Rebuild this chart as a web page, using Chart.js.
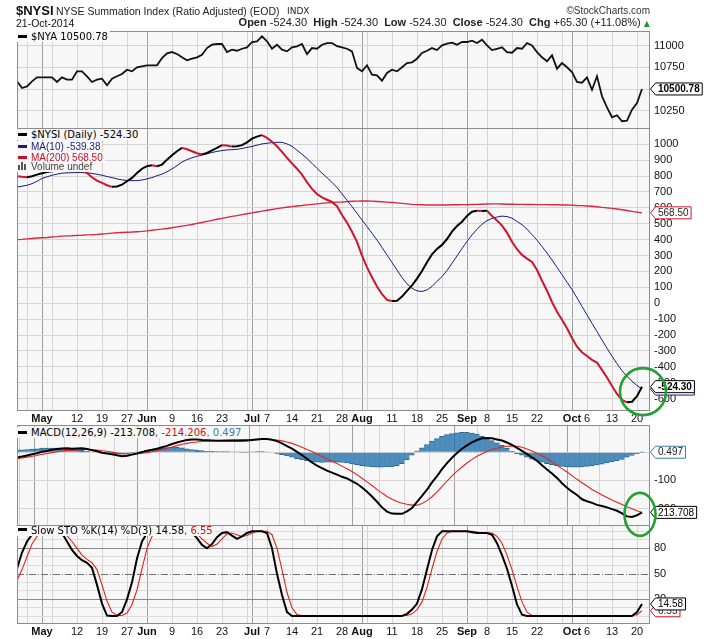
<!DOCTYPE html>
<html><head><meta charset="utf-8">
<script src="https://cdn.jsdelivr.net/npm/chart.js@4.4.1/dist/chart.umd.min.js"></script>
<style>
html,body{margin:0;padding:0;background:#fff;}
#wrap{position:relative;width:725px;height:639px;overflow:hidden;background:#fff;}
#wrap canvas{position:absolute;left:0;top:0;width:725px;height:639px;}
.t{position:absolute;white-space:nowrap;}
.lg{position:absolute;white-space:nowrap;font-family:"DejaVu Sans",sans-serif;font-size:10px;line-height:11px;background:#f7f7f7;padding:0 2px 0 1px;color:#000;}
.ls{font-family:"Liberation Sans",Arial,sans-serif;}
.mk{display:inline-block;width:9px;height:3px;vertical-align:middle;margin-right:4px;position:relative;top:-1px;}
.vb{display:inline-block;width:2px;background:#555;margin-right:1px;vertical-align:baseline;}
</style></head><body>
<div id="wrap">
<canvas id="cNya" width="725" height="639"></canvas>
<canvas id="cSum" width="725" height="639"></canvas>
<canvas id="cSto" width="725" height="639"></canvas>
<canvas id="cMacd" width="725" height="639"></canvas>

<div class="t" style="left:16px;top:3.5px;font:bold 13px/14px 'Liberation Sans',Arial,sans-serif;color:#111">$NYSI</div>
<div class="t" style="left:56px;top:5.3px;font:10.5px/12px 'Liberation Sans',Arial,sans-serif;color:#222">NYSE Summation Index (Ratio Adjusted) (EOD)</div>
<div class="t" style="left:287px;top:5px;font:9px/12px 'DejaVu Sans',sans-serif;color:#222">INDX</div>
<div class="t" style="right:75px;top:4.5px;font:10px/12px 'Liberation Sans',Arial,sans-serif;color:#333">©StockCharts.com</div>
<div class="t" style="left:16px;top:16.8px;font:10.5px/12px 'Liberation Sans',Arial,sans-serif;color:#111">21-Oct-2014</div>
<div class="t" style="right:75px;top:16.4px;font:11px/13px 'Liberation Sans',Arial,sans-serif;color:#222"><b>Open</b> -524.30&nbsp; <b>High</b> -524.30&nbsp; <b>Low</b> -524.30&nbsp; <b>Close</b> -524.30&nbsp; <b>Chg</b> +65.30 (+11.08%) <span style="color:#2a9a2a;font-size:8px;font-family:'DejaVu Sans'">▲</span></div>

<div class="lg" style="left:17px;top:31px;"><span class="mk" style="background:#000"></span>$NYA 10500.78</div>

<div class="lg" style="left:17px;top:129.4px;"><span class="mk" style="background:#000"></span>$NYSI (Daily) -524.30</div>
<div class="lg ls" style="left:17px;top:140.9px;color:#1c1c80"><span class="mk" style="background:#1c1c80"></span>MA(10) -539.38</div>
<div class="lg ls" style="left:17px;top:151.9px;color:#c8102e"><span class="mk" style="background:#c8102e"></span>MA(200) 568.50</div>
<div class="lg ls" style="left:17px;top:162.4px;line-height:10px;color:#444"><span style="display:inline-block;width:9px;margin-right:4px;"><span class="vb" style="height:5px"></span><span class="vb" style="height:8px"></span><span class="vb" style="height:6px"></span></span>Volume undef</div>

<div class="lg" style="left:17px;top:427px;"><span class="mk" style="background:#000"></span>MACD(12,26,9) -213.708<span style="color:#d01010">, -214.206</span><span style="color:#3f7fa0">, 0.497</span></div>

<div class="lg" style="left:17px;top:525.9px;line-height:10px;"><span class="mk" style="background:#000"></span>Slow STO %K(14) %D(3) 14.58<span style="color:#d01010">, 6.55</span></div>
</div>

<script>
// ---------------- DATA ----------------
const days = ['4/24','4/25','4/28','4/29','4/30','5/1','5/2','5/5','5/6','5/7','5/8','5/9','5/12','5/13','5/14','5/15','5/16','5/19','5/20','5/21','5/22','5/23','5/27','5/28','5/29','5/30','6/2','6/3','6/4','6/5','6/6','6/9','6/10','6/11','6/12','6/13','6/16','6/17','6/18','6/19','6/20','6/23','6/24','6/25','6/26','6/27','6/30','7/1','7/2','7/3','7/7','7/8','7/9','7/10','7/11','7/14','7/15','7/16','7/17','7/18','7/21','7/22','7/23','7/24','7/25','7/28','7/29','7/30','7/31','8/1','8/4','8/5','8/6','8/7','8/8','8/11','8/12','8/13','8/14','8/15','8/18','8/19','8/20','8/21','8/22','8/25','8/26','8/27','8/28','8/29','9/2','9/3','9/4','9/5','9/8','9/9','9/10','9/11','9/12','9/15','9/16','9/17','9/18','9/19','9/22','9/23','9/24','9/25','9/26','9/29','9/30','10/1','10/2','10/3','10/6','10/7','10/8','10/9','10/10','10/13','10/14','10/15','10/16','10/17','10/20','10/21'];

const weekDays  = ['4/28','5/5','5/12','5/19','5/27','6/9','6/16','6/23','6/30','7/7','7/14','7/21','7/28','8/4','8/11','8/18','8/25','9/8','9/15','9/22','9/29','10/6','10/13','10/20'];
const monthDays = ['5/1','6/2','7/1','8/1','9/2','10/1'];
const tickDays  = ['5/1','5/12','5/19','5/27','6/2','6/9','6/16','6/23','7/1','7/7','7/14','7/21','7/28','8/1','8/11','8/18','8/25','9/2','9/8','9/15','9/22','10/1','10/6','10/13','10/20'];
const tickText  = ['May','12','19','27','Jun','9','16','23','Jul','7','14','21','28','Aug','11','18','25','Sep','8','15','22','Oct','6','13','20'];

const nyaTicks  = [10250,10500,10750,11000];
const nysiTicks = [-600,-500,-400,-300,-200,-100,0,100,200,300,400,500,600,700,800,900,1000];
const macdTicks = [-200,-100,0];
const stoTicks  = [0,10,20,30,40,50,60,70,80,90,100];
const stoLabels = [80,50,20];

const nya = [10589,10512,10531,10589,10635,10635,10635,10635,10581,10635,
10608,10608,10704,10704,10647,10581,10608,10619,10543,10619,
10647,10673,10723,10704,10751,10762,10774,10774,10774,10858,
10912,10927,10904,10866,10831,10850,10866,10896,10973,11012,
11020,11020,10927,10954,10942,10965,10981,11043,11051,11108,
11051,10965,11012,10954,10935,10981,10993,11020,10904,10973,
10965,11012,11031,11031,10995,10981,10965,10935,10743,10704,
10774,10665,10658,10596,10685,10723,10704,10751,10800,10808,
10850,10916,10942,10973,10950,11004,11023,11035,11012,11043,
11043,11058,11031,11069,11004,10950,10965,10981,10927,10919,
10973,10965,11031,11004,10927,10866,10820,10889,10735,10800,
10751,10696,10581,10573,10635,10492,10647,10416,10289,10174,
10197,10128,10135,10262,10339,10500.78];

const nysi = [799,795,792,799,809,817,825,830,834,836,
838,836,838,832,819,792,771,757,742,732,
734,746,767,788,819,846,862,868,862,872,
903,931,956,977,968,956,943,935,945,962,
977,994,992,985,987,994,1012,1035,1048,1057,
1040,1015,987,952,914,880,846,809,761,719,
687,666,651,637,610,555,507,450,386,300,
226,164,105,57,21,14,16,42,78,113,
155,203,258,308,342,367,404,450,486,513,
549,576,582,580,582,549,520,488,444,387,
340,304,281,260,209,142,79,8,-53,-103,
-157,-218,-273,-308,-331,-356,-373,-419,-467,-520,
-570,-608,-623,-619,-584,-524.30];

const ma10 = [730,736,742,752,767,785,795,805,812,818,
820,821,822,822,821,816,811,805,797,790,
782,776,772,771,771,775,782,790,802,812,
827,845,865,888,903,915,924,932,940,948,
955,960,964,966,968,973,980,986,994,1002,
1006,1010,1012,1012,1002,987,962,937,910,880,
848,818,790,760,728,688,648,608,566,524,
482,440,398,351,304,256,209,162,122,94,
78,74,84,106,138,168,206,252,298,344,
389,430,465,497,520,533,542,548,545,535,
515,494,466,432,397,357,316,272,226,180,
132,86,34,-20,-73,-126,-178,-231,-283,-333,
-380,-424,-460,-490,-517,-539.38];

const ma200 = [400,402,405,407,410,412,414,417,419,422,
424,425,427,428,430,431,433,436,438,441,
443,445,447,448,450,452,455,459,463,466,
470,475,480,485,490,495,502,508,515,521,
528,534,540,546,551,557,563,568,574,579,
585,590,595,600,604,608,612,615,619,622,
625,628,631,634,636,637,639,641,642,643,
643,642,640,638,636,634,631,628,625,622,
620,619,618,618,618,618,618,619,619,620,
620,621,622,623,624,625,625,624,623,623,
622,622,621,621,620,620,620,619,619,618,
618,617,615,614,612,610,607,603,600,597,
593,588,583,578,573,568.50];

const macd = [-18,-15,-11,-7,-3,2,5,9,12,14,
15,13,14,15,12,8,4,-1,-4,-7,
-10,-14,-12,-8,-4,1,6,9,13,18,
23,30,35,40,44,46,46,44,43,42,
41,41,41,41,41,41,42,44,46,48,
48,45,40,32,22,13,2,-10,-23,-36,
-47,-56,-65,-72,-79,-87,-93,-102,-112,-125,
-140,-157,-176,-196,-211,-218,-219,-219,-210,-198,
-176,-155,-133,-107,-85,-60,-38,-19,-2,13,
25,36,44,50,51,50,46,42,35,27,
16,5,-6,-18,-30,-46,-61,-75,-91,-110,
-126,-140,-152,-167,-174,-180,-187,-191,-196,-202,
-208,-217,-228,-230,-224,-213.708];

const signal = [-23,-20,-17,-14,-11,-7,-4,-1,2,5,
7,8,9,10,10,9,8,6,4,1,
-2,-5,-6,-6,-5,-3,-1,2,6,10,
15,19,24,29,32,35,37,39,40,41,
42,43,44,45,45,46,46,46,47,47,
47,46,44,41,37,32,25,18,10,3,
-6,-15,-24,-32,-40,-49,-58,-68,-80,-92,
-105,-118,-132,-145,-157,-167,-175,-181,-185,-188,
-188,-182,-172,-158,-141,-122,-102,-84,-67,-52,
-38,-25,-14,-5,3,10,15,19,22,23,
22,18,12,5,-3,-12,-22,-34,-46,-58,
-70,-83,-96,-108,-120,-132,-142,-152,-161,-170,
-178,-186,-194,-201,-208,-214.206];

const hist = [8,9,10,12,13,15,15,15,15,15,
13,11,9,7,4,2,0,-2,-3,-4,
-5,-6,-4,-1,1,4,7,10,13,15,
17,18,18,16,13,10,8,6,4,4,
3,3,3,2,2,1,1,2,3,3,
2,0,-4,-8,-13,-17,-22,-26,-30,-33,
-35,-36,-35,-35,-35,-36,-38,-41,-44,-47,
-50,-52,-53,-53,-52,-51,-47,-40,-27,-10,
5,16,28,40,49,57,63,67,70,71,
71,69,65,58,50,42,34,25,14,4,
-5,-10,-17,-24,-30,-35,-40,-44,-47,-50,
-52,-53,-53,-52,-50,-48,-45,-42,-38,-34,
-30,-25,-17,-11,-5,0.497];

const stoK = [56,75,88,96,100,100,100,100,100,98,
88,78,71,66,63,57,37,15,1,0.5,
0.5,5,20,40,68,88,98,100,100,100,
100,100,100,100,100,98,92,84,80,85,
93,98,99,95,91,94,98,100,100,100,
98,80,50,25,5,0.5,0.5,0.5,0.5,0.5,
0.5,0.5,0.5,0.5,0.5,0.5,0.5,0.5,0.5,0.5,
0.5,0.5,0.5,0.5,0.5,0.5,0.5,0.5,3,8,
15,32,55,78,94,100,100,100,100,100,
100,99,98,98,98,96,86,72,56,36,
14,2,0.5,0.5,0.5,0.5,0.5,0.5,0.5,0.5,
0.5,0.5,0.5,0.5,0.5,0.5,0.5,0.5,0.5,0.5,
0.5,0.5,0.5,0.5,5,14.58];

const stoD = [42,55,70,85,94,99,100,100,100,100,
95,88,80,72,67,63,55,37,18,5,
1,1,4,14,31,56,80,94,99,100,
100,100,100,100,100,100,97,91,86,82,
85,91,97,98,96,94,95,98,100,100,
100,96,80,55,28,10,2,1,1,1,
1,1,1,1,1,1,1,1,1,1,
1,1,1,1,1,1,1,1,1,3,
8,17,34,56,76,91,98,100,100,100,
100,100,99,98,98,98,94,86,72,55,
35,17,5,1,1,1,1,1,1,1,
1,1,1,1,1,1,1,1,1,1,
1,1,1,1,2,6.55];

// ---------------- HELPERS ----------------
const FONT = '"Liberation Sans", Arial, sans-serif';
const PLOT_BG = '#f7f7f7';
const RED = '#cf1430';
const NAVY = '#1c1c80';
const X_MAX = days.length + 0.6;
const last = a => a[a.length - 1];
const pts = a => a.map((v, i) => ({x: i, y: v}));

const weekIdx = weekDays.map(d => days.indexOf(d));
const monIdx = monthDays.map(d => days.indexOf(d));
const tickIdx = tickDays.map(d => days.indexOf(d));
const allX = Array.from(new Set([...weekIdx, ...monIdx, ...tickIdx])).sort((a, b) => a - b);
const labelAt = new Map(tickIdx.map((v, k) => [v, tickText[k]]));
const monSet = new Set(monIdx);

function xAxis(show, h) {
  return {
    type: 'linear', min: 0, max: X_MAX, offset: false,
    afterBuildTicks: s => { s.ticks = allX.map(v => ({value: v})); },
    afterFit: s => { s.height = h; },
    ticks: {
      display: show, autoSkip: false, maxRotation: 0, minRotation: 0, padding: 2, color: '#111',
      callback: v => labelAt.get(v) || '',
      font: c => ({family: FONT, size: 11, weight: (c.tick && monSet.has(c.tick.value)) ? 'bold' : 'normal'})
    },
    grid: {drawTicks: false, lineWidth: 1, color: c => (c.tick && monSet.has(c.tick.value)) ? '#9e9e9e' : '#d4d4d4'},
    border: {display: false}
  };
}
function yAxis(min, max, vals, labelFn, gridColor) {
  return {
    position: 'right', min, max,
    afterBuildTicks: s => { s.ticks = vals.map(v => ({value: v})); },
    afterFit: s => { s.width = 75; },
    ticks: {autoSkip: false, padding: 4, color: '#111', font: {family: FONT, size: 11}, callback: labelFn || (v => String(v))},
    grid: {drawTicks: false, color: gridColor || '#d4d4d4'},
    border: {display: false}
  };
}

const bgPlugin = {id: 'bg', beforeDraw(ch) {
  const a = ch.chartArea, c = ch.ctx; c.save(); c.fillStyle = PLOT_BG;
  c.fillRect(a.left, a.top, a.right - a.left, a.bottom - a.top); c.restore(); }};
const framePlugin = {id: 'frame', afterDatasetsDraw(ch) {
  const a = ch.chartArea, c = ch.ctx; c.save(); c.strokeStyle = '#8c8c8c'; c.lineWidth = 1;
  c.strokeRect(Math.round(a.left) + 0.5, Math.round(a.top) + 0.5, Math.round(a.right - a.left) - 1, Math.round(a.bottom - a.top));
  c.restore(); }};

function drawTag(c, x, y, text, o) {
  c.save();
  c.font = (o.bold ? 'bold ' : '') + '10px ' + FONT;
  const w = c.measureText(text).width + 5;
  const h = 12;
  c.beginPath();
  c.moveTo(x + 0.5, y);
  c.lineTo(x + 5.5, y - h / 2);
  c.lineTo(x + 5.5 + w, y - h / 2);
  c.lineTo(x + 5.5 + w, y + h / 2);
  c.lineTo(x + 5.5, y + h / 2);
  c.closePath();
  c.fillStyle = '#fff'; c.fill();
  c.lineWidth = 1; c.strokeStyle = o.border; c.stroke();
  c.fillStyle = o.color || '#000'; c.textBaseline = 'middle'; c.textAlign = 'left';
  c.fillText(text, x + 8, y + 0.5);
  c.restore();
}
function tagPlugin(list) {
  return {id: 'tags', afterDraw(ch) {
    const y = ch.scales.y, x0 = ch.chartArea.right;
    list.forEach(t => drawTag(ch.ctx, x0, y.getPixelForValue(t.value), t.text, t));
  }};
}
function ellipsePlugin(series, dx, dy, rx, ry) {
  return {id: 'ell', afterDraw(ch) {
    const c = ch.ctx;
    const cx = ch.scales.x.getPixelForValue(series.length - 1) + dx;
    const cy = ch.scales.y.getPixelForValue(last(series)) + dy;
    c.save(); c.beginPath(); c.ellipse(cx, cy, rx, ry, 0, 0, Math.PI * 2);
    c.strokeStyle = '#23a033'; c.lineWidth = 2.6; c.stroke(); c.restore();
  }};
}
const stoRefPlugin = {id: 'stoRef', beforeDatasetsDraw(ch) {
  const a = ch.chartArea, c = ch.ctx, y = Math.round(ch.scales.y.getPixelForValue(50)) + 0.5;
  c.save(); c.strokeStyle = '#6f6f6f'; c.lineWidth = 1; c.setLineDash([7, 2, 1, 2]);
  c.beginPath(); c.moveTo(a.left, y); c.lineTo(a.right, y); c.stroke(); c.restore(); }};

function makeChart(id, pad, datasets, scales, plugins) {
  return new Chart(document.getElementById(id), {
    type: 'line',
    data: {datasets},
    options: {
      responsive: false, animation: false, events: [],
      layout: {padding: pad},
      plugins: {legend: {display: false}, tooltip: {enabled: false}},
      elements: {point: {radius: 0}, line: {tension: 0}},
      scales
    },
    plugins: [bgPlugin, ...plugins, framePlugin]
  });
}

// ---------------- PANEL 1 : $NYA ----------------
makeChart('cNya', {left: 17, right: 0, top: 31, bottom: 639 - 128},
  [{data: pts(nya), borderColor: '#111', borderWidth: 1.8}],
  {x: xAxis(false, 0), y: yAxis(10050, 11170, nyaTicks)},
  [tagPlugin([{value: last(nya), text: last(nya).toFixed(2), border: '#000', bold: true}])]);

// ---------------- PANEL 2 : $NYSI + MAs ----------------
makeChart('cSum', {left: 17, right: 0, top: 128, bottom: 639 - 425},
  [
    {data: pts(nysi), borderWidth: 2, order: 0, borderColor: '#000',
      segment: {borderColor: c => c.p1.parsed.y < c.p0.parsed.y ? RED : '#000'}},
    {data: pts(ma10), borderColor: NAVY, borderWidth: 1, order: 1},
    {data: pts(ma200), borderColor: 'rgba(214,28,56,0.95)', borderWidth: 1.4, order: 2}
  ],
  {x: xAxis(true, 15), y: yAxis(-671, 1102, nysiTicks)},
  [tagPlugin([
    {value: last(ma200), text: last(ma200).toFixed(2), border: RED, color: '#222'},
    {value: last(ma10), text: last(ma10).toFixed(2), border: NAVY, color: '#222'},
    {value: last(nysi), text: last(nysi).toFixed(2), border: '#000', bold: true}
  ]), ellipsePlugin(nysi, 1, 5, 23, 23.5)]);

// ---------------- PANEL 4 : Slow STO ----------------
makeChart('cSto', {left: 17, right: 0, top: 525, bottom: 0},
  [
    {data: pts(stoK), borderColor: '#000', borderWidth: 2, order: 0},
    {data: pts(stoD), borderColor: '#e2231a', borderWidth: 1.1, order: 1}
  ],
  {x: xAxis(true, 16), y: yAxis(-7.8, 107.4, stoTicks, v => stoLabels.includes(v) ? String(v) : '',
      c => (c.tick.value === 80 || c.tick.value === 20) ? '#8a8a8a' : (c.tick.value === 50 ? 'rgba(0,0,0,0)' : '#dcdcdc'))},
  [stoRefPlugin, tagPlugin([
    {value: last(stoD), text: last(stoD).toFixed(2), border: '#d01010', color: '#222'},
    {value: last(stoK), text: last(stoK).toFixed(2), border: '#000', color: '#000'}
  ])]);

// ---------------- PANEL 3 : MACD ----------------
makeChart('cMacd', {left: 17, right: 0, top: 425, bottom: 639 - 525},
  [
    {type: 'bar', data: pts(hist), backgroundColor: '#4a8fc0', borderColor: '#2b6791',
      borderWidth: {left: 1, right: 0, top: 1, bottom: 1}, borderSkipped: 'start',
      barPercentage: 1, categoryPercentage: 1, order: 2},
    {data: pts(signal), borderColor: '#e2231a', borderWidth: 1.1, order: 1},
    {data: pts(macd), borderColor: '#000', borderWidth: 2, order: 0}
  ],
  {x: xAxis(false, 0), y: yAxis(-258.7, 97.5, macdTicks)},
  [tagPlugin([
    {value: last(hist), text: last(hist).toFixed(3), border: '#3f7fa0', color: '#222'},
    {value: last(macd), text: last(macd).toFixed(3).replace('-', ''), border: '#000', color: '#000'}
  ]), ellipsePlugin(macd, -2, 2, 15.5, 21.5)]);
</script>
</body></html>
